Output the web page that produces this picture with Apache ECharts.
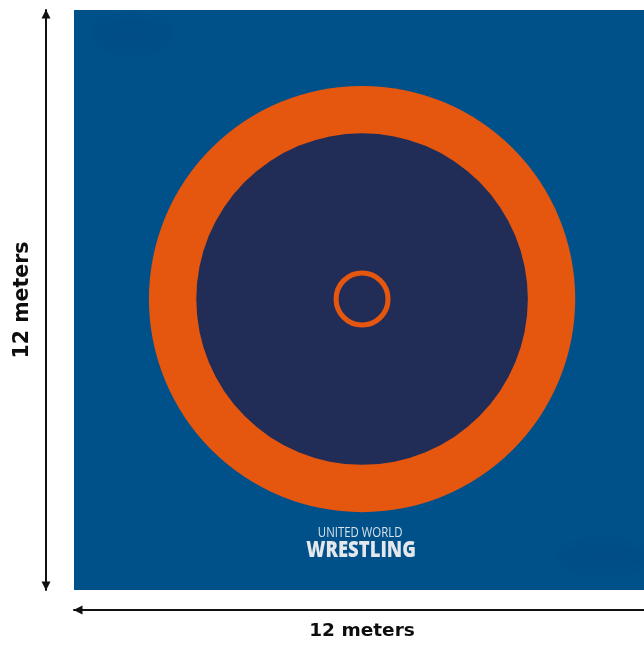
<!DOCTYPE html>
<html><head><meta charset="utf-8">
<style>html,body{margin:0;padding:0;background:#fff}#c{width:644px;height:645px}</style>
<script src="https://cdn.jsdelivr.net/npm/echarts@6/dist/echarts.min.js"></script></head>
<body><div id="c"></div>
<script>
// All values in metres on the mat, origin at lower-left corner
var matSize = [12, 12];
var zoneCenter = [5.96, 6.02];
var protectionRadius = 4.41;
var wrestlingRadius = 3.43;
var centerRingOuter = 0.59;
var centerRingInner = 0.485;
var widthLabel = '12 meters';
var heightLabel = '12 meters';
var logoLines = [
  {text: 'UNITED WORLD', x: 5.92, y: 1.18},
  {text: 'WRESTLING', x: 5.94, y: 0.81}
];
var smudges = [[1.2, 11.5, 0.75, 0.3], [10.95, 0.68, 0.9, 0.25]];

var chart = echarts.init(document.getElementById('c'), null, {renderer: 'canvas'});
function arrowAxis(extra) {
  return Object.assign({
    type: 'value', min: 0, max: 12, interval: 12,
    splitLine: {show: false}, axisTick: {show: false}, axisLabel: {show: false},
    nameLocation: 'middle'
  }, extra);
}
var nameFont = {color: '#0d0d0d', fontFamily: '"DejaVu Sans"', fontWeight: 'bold', fontSize: 18.5};
var nameFontTall = {color: '#0d0d0d', fontFamily: '"DejaVu Sans"', fontWeight: 'bold', fontSize: 20.5};
chart.setOption({
  animation: false,
  backgroundColor: '#ffffff',
  grid: {left: 74, top: 10, width: 580, height: 580, outerBoundsMode: 'none'},
  xAxis: arrowAxis({
    name: widthLabel, offset: 20, nameGap: 12,
    nameTextStyle: Object.assign({padding: [0, 4, 0, 0]}, nameFont),
    axisLine: {onZero: false, show: true, lineStyle: {color: '#111', width: 2},
      symbol: ['triangle', 'none'], symbolSize: [9, 9], symbolOffset: [4, 0]}
  }),
  yAxis: arrowAxis({
    name: heightLabel, offset: 28, nameGap: 9,
    nameTextStyle: Object.assign({padding: [0, 0, 4, 0]}, nameFontTall),
    axisLine: {onZero: false, show: true, lineStyle: {color: '#111', width: 2},
      symbol: ['triangle', 'triangle'], symbolSize: [9, 9], symbolOffset: [4, -4]}
  }),
  series: [
    {type: 'custom', silent: true, data: [[0, 0, matSize[0], matSize[1]]], clip: true,
      renderItem: function (p, api) {
        var a = api.coord([api.value(0), api.value(3)]);
        var s = api.size([api.value(2), api.value(3)]);
        return {type: 'rect', shape: {x: a[0], y: a[1], width: s[0], height: s[1]}, style: {fill: '#00508a'}};
      }},
    {type: 'custom', silent: true, data: smudges, clip: true,
      renderItem: function (p, api) {
        var c = api.coord([api.value(0), api.value(1)]);
        var s = api.size([api.value(2), api.value(3)]);
        return {type: 'ellipse', shape: {cx: c[0], cy: c[1], rx: s[0], ry: s[1]},
          style: {fill: 'rgba(0,74,126,0.15)', shadowBlur: 14, shadowColor: 'rgba(0,74,126,0.2)'}};
      }},
    {type: 'custom', silent: true, clip: true,
      data: [[zoneCenter[0], zoneCenter[1], protectionRadius, '#e5560f'], [zoneCenter[0], zoneCenter[1], wrestlingRadius, '#212d57']],
      renderItem: function (p, api) {
        var c = api.coord([api.value(0), api.value(1)]);
        var r = api.size([api.value(2), 0])[0];
        return {type: 'circle', shape: {cx: c[0], cy: c[1], r: r}, style: {fill: api.value(3)}};
      }, dimensions: ['x', 'y', 'r', {name: 'c', type: 'ordinal'}]},
    {type: 'custom', silent: true, clip: true,
      data: [[zoneCenter[0], zoneCenter[1], centerRingOuter, centerRingInner]],
      renderItem: function (p, api) {
        var c = api.coord([api.value(0), api.value(1)]);
        var ro = api.size([api.value(2), 0])[0], ri = api.size([api.value(3), 0])[0];
        return {type: 'circle', shape: {cx: c[0], cy: c[1], r: (ro + ri) / 2},
          style: {fill: 'none', stroke: '#e5560f', lineWidth: ro - ri}};
      }},
    {type: 'custom', silent: true, clip: true,
      data: logoLines.map(function (d) { return [d.x, d.y, d.text]; }),
      dimensions: ['x', 'y', {name: 't', type: 'ordinal'}],
      renderItem: function (p, api) {
        var c = api.coord([api.value(0), api.value(1)]);
        var big = p.dataIndex === 1;
        return {type: 'text', x: c[0], y: c[1], scaleX: big ? 0.84 : 0.76, scaleY: 1,
          style: {text: api.value(2), fill: big ? '#e4e8ec' : '#dbe3ea', align: 'center', verticalAlign: 'middle',
            fontFamily: 'Open Sans', fontWeight: big ? 900 : 'normal', fontSize: big ? 22 : 15}};
      }}
  ]
});
</script></body></html>
